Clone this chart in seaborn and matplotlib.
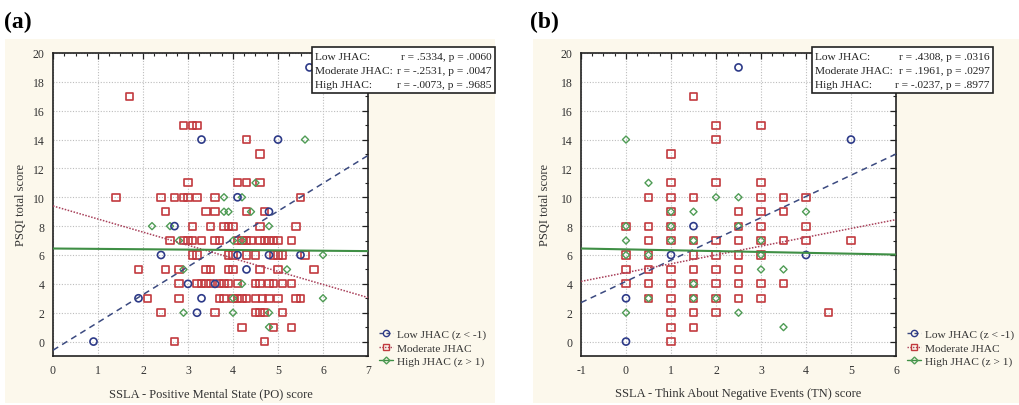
import matplotlib
matplotlib.use("Agg")
import matplotlib.pyplot as plt
import seaborn as sns
import pandas as pd
from matplotlib.lines import Line2D
from matplotlib.patches import Rectangle
from matplotlib.ticker import MultipleLocator

sns.set_theme(style="white")
plt.rcParams['font.family'] = ['Liberation Serif', 'DejaVu Serif']
plt.rcParams['axes.unicode_minus'] = False

# ---------------- Panel (a) data: SSLA Positive Mental State vs PSQI ----------------
a_low_x = [0.9, 1.9, 2.4, 2.7, 3.0, 3.2, 3.3, 3.3, 3.6, 4.1, 4.1, 4.3, 4.8, 4.8, 5.0, 5.5, 5.7]
a_low_y = [0, 3, 6, 8, 4, 2, 3, 14, 4, 6, 10, 5, 6, 9, 14, 6, 19]

a_high_x = [2.2, 2.6, 2.8, 2.9, 2.9, 3.8, 4.2, 3.8, 3.9, 4.4, 4.5, 4.8, 4.0, 4.2, 4.2, 4.0, 4.0, 4.8, 4.8, 5.2, 5.6, 6.0, 6.0]
a_high_y = [8, 8, 7, 5, 2, 10, 10, 9, 9, 9, 11, 8, 7, 7, 4, 3, 2, 2, 1, 5, 14, 6, 3]

a_mod_x = [1.7,
           2.9, 3.1, 3.2,
           4.3,
           4.6,
           3.0, 4.1, 4.3, 4.6,
           1.4, 2.4, 2.7, 2.9, 3.0, 3.2, 3.6, 5.5,
           2.5, 3.4, 3.6, 4.3, 4.7,
           3.1, 3.5, 3.8, 3.9, 4.0, 4.6, 5.4,
           2.6, 2.9, 3.0, 3.1, 3.3, 3.6, 3.7, 4.1, 4.2, 4.3, 4.4, 4.6, 4.7, 4.8, 4.9, 5.0, 5.3,
           3.1, 3.2, 3.9, 4.0, 4.3, 4.5, 4.9, 5.0, 5.1, 5.6,
           1.9, 2.5, 2.8, 3.4, 3.5, 3.9, 4.0, 4.6, 5.0, 5.8,
           2.8, 3.2, 3.3, 3.4, 3.5, 3.7, 3.8, 3.9, 4.1, 4.5, 4.6, 4.8, 4.9, 5.1, 5.3,
           2.1, 2.8, 3.7, 3.8, 4.0, 4.1, 4.2, 4.3, 4.5, 4.65, 4.8, 5.0, 5.4, 5.5,
           2.4, 3.6, 4.5, 4.6, 4.7, 5.1,
           4.2, 4.9, 5.3,
           2.7, 4.7]
a_mod_y = [17,
           15, 15, 15,
           14,
           13,
           11, 11, 11, 11,
           10, 10, 10, 10, 10, 10, 10, 10,
           9, 9, 9, 9, 9,
           8, 8, 8, 8, 8, 8, 8,
           7, 7, 7, 7, 7, 7, 7, 7, 7, 7, 7, 7, 7, 7, 7, 7, 7,
           6, 6, 6, 6, 6, 6, 6, 6, 6, 6,
           5, 5, 5, 5, 5, 5, 5, 5, 5, 5,
           4, 4, 4, 4, 4, 4, 4, 4, 4, 4, 4, 4, 4, 4, 4,
           3, 3, 3, 3, 3, 3, 3, 3, 3, 3, 3, 3, 3, 3,
           2, 2, 2, 2, 2, 2,
           1, 1, 1,
           0, 0]

# fitted lines (value at left and right end of x range)
a_fit_x = [0, 7]
a_fit_low = [-0.6, 12.9]
a_fit_mod = [9.4, 3.05]
a_fit_high = [6.45, 6.27]

# ---------------- Panel (b) data: SSLA Think About Negative Events vs PSQI ----------------
b_low_x = [0, 0, 1, 1.5, 2.5, 4, 5]
b_low_y = [0, 3, 6, 8, 19, 6, 14]

b_high_x = [0, 0, 0, 0.5, 1.5, 2, 2.5, 2.5, 3, 3.5, 3.5, 4,
            0, 0, 0.5, 0.5, 1, 1, 1, 1.5, 1.5, 1.5, 2, 2.5, 3, 3]
b_high_y = [14, 7, 2, 11, 9, 10, 10, 2, 5, 5, 1, 9,
            8, 6, 6, 3, 9, 8, 7, 7, 4, 3, 3, 8, 7, 6]

b_mod_x = [0, 0, 0, 0,
           0.5, 0.5, 0.5, 0.5, 0.5, 0.5, 0.5,
           1, 1, 1, 1, 1, 1, 1, 1, 1, 1, 1, 1,
           1.5, 1.5, 1.5, 1.5, 1.5, 1.5, 1.5, 1.5, 1.5,
           2, 2, 2, 2, 2, 2, 2, 2, 2,
           2.5, 2.5, 2.5, 2.5, 2.5, 2.5, 2.5,
           3, 3, 3, 3, 3, 3, 3, 3, 3,
           3.5, 3.5, 3.5, 3.5,
           4, 4, 4,
           4.5,
           5]
b_mod_y = [8, 6, 5, 4,
           10, 8, 7, 6, 5, 4, 3,
           13, 11, 10, 9, 8, 7, 5, 4, 3, 2, 1, 0,
           17, 10, 7, 6, 5, 4, 3, 2, 1,
           15, 14, 11, 7, 6, 5, 4, 3, 2,
           9, 8, 7, 6, 5, 4, 3,
           15, 11, 10, 9, 8, 7, 6, 4, 3,
           10, 9, 7, 4,
           10, 8, 7,
           2,
           7]

b_fit_x = [-1, 6]
b_fit_low = [2.7, 13.0]
b_fit_mod = [4.17, 8.45]
b_fit_high = [6.45, 6.03]

# ---------------- text ----------------
group_names = ["Low JHAC (z < -1)", "Moderate JHAC", "High JHAC (z > 1)"]
stat_labels = ["Low JHAC:", "Moderate JHAC:", "High JHAC:"]
a_stats = ["r = .5334, p = .0060", "r = -.2531, p = .0047", "r = -.0073, p = .9685"]
b_stats = ["r = .4308, p = .0316", "r = .1961, p = .0297", "r = -.0237, p = .8977"]
a_xlabel = "SSLA - Positive Mental State (PO) score"
b_xlabel = "SSLA - Think About Negative Events (TN) score"
ylabel = "PSQI total score"

# ---------------- styling ----------------
W, H = 1020, 406
C_LOW, C_MOD, C_HIGH = "#2d3a88", "#c23a3e", "#4f9c55"
L_LOW, L_MOD, L_HIGH = "#3b4a80", "#a8405a", "#3f8f45"
CREAM = "#fcf8ec"

fig = plt.figure(figsize=(W / 100, H / 100), dpi=100)
fig.patch.set_facecolor("white")


def fx(px):
    return px / W


def fy(py):
    return 1 - py / H


# cream panel backgrounds
for x0, x1 in [(5, 495), (533, 1020)]:
    fig.patches.append(Rectangle((fx(x0), fy(404)), fx(x1) - fx(x0), fy(40) - fy(404),
                                 transform=fig.transFigure, facecolor=CREAM,
                                 edgecolor="none", zorder=0))


def panel(left_px, xlim, lx, ly, mx, my, hx, hy, fit_x, f_low, f_mod, f_high,
          xlabel, stats, box_px, tag, tag_px, ylab_x):
    ax = fig.add_axes([fx(left_px), fy(357), 315 / W, (357 - 54) / H])
    ax.set_facecolor("white")
    ax.set_zorder(1)
    df_low = pd.DataFrame({"x": lx, "y": ly})
    df_mod = pd.DataFrame({"x": mx, "y": my})
    df_high = pd.DataFrame({"x": hx, "y": hy})

    sns.scatterplot(data=df_mod, x="x", y="y", ax=ax, marker="s", s=26,
                    color=C_MOD, facecolor="none", edgecolor=C_MOD, linewidth=1.2, zorder=3)
    sns.scatterplot(data=df_high, x="x", y="y", ax=ax, marker="D", s=13,
                    color=C_HIGH, facecolor="none", edgecolor=C_HIGH, linewidth=1.0, zorder=4)
    sns.scatterplot(data=df_low, x="x", y="y", ax=ax, marker="o", s=26,
                    color=C_LOW, facecolor="none", edgecolor=C_LOW, linewidth=1.2, zorder=5)

    sns.lineplot(x=fit_x, y=f_low, ax=ax, color=L_LOW, linewidth=1.1, zorder=6)
    ax.lines[-1].set_dashes([4, 3])
    sns.lineplot(x=fit_x, y=f_mod, ax=ax, color=L_MOD, linewidth=1.1, zorder=6)
    ax.lines[-1].set_dashes([1, 1])
    sns.lineplot(x=fit_x, y=f_high, ax=ax, color=L_HIGH, linewidth=1.5, zorder=6)

    ax.set_xlim(*xlim)
    ax.set_ylim(-1, 20)
    ax.xaxis.set_major_locator(MultipleLocator(1))
    ax.xaxis.set_minor_locator(MultipleLocator(0.25))
    ax.yaxis.set_major_locator(MultipleLocator(2))
    ax.yaxis.set_minor_locator(MultipleLocator(1))
    ax.set_yticks(range(0, 21, 2))
    ax.grid(True, which="major", color="#bdbdbd", linestyle=(0, (1, 1.5)), linewidth=0.8)
    ax.tick_params(which="both", direction="in", top=True, right=True, colors="#222222",
                   labelsize=8.5, labelcolor="#333333")
    ax.tick_params(which="major", length=4, width=0.9, pad=6)
    ax.tick_params(which="minor", length=2.5, width=0.8)
    for sp in ax.spines.values():
        sp.set_visible(True)
        sp.set_color("#222222")
        sp.set_linewidth(1.2)
    ax.set_xlabel(xlabel, fontsize=9, color="#333333", labelpad=8)
    ax.set_ylabel(ylabel, fontsize=9, color="#333333")
    ax.yaxis.set_label_coords(ylab_x, 0.5)

    handles = [
        Line2D([], [], color=L_LOW, linestyle=(0, (3, 2)), linewidth=1, marker="o",
               markerfacecolor="none", markeredgecolor=C_LOW, markersize=4.5),
        Line2D([], [], color=L_MOD, linestyle=(0, (1, 1)), linewidth=1, marker="s",
               markerfacecolor="none", markeredgecolor=C_MOD, markersize=4.5),
        Line2D([], [], color=L_HIGH, linestyle="-", linewidth=1, marker="D",
               markerfacecolor="none", markeredgecolor=C_HIGH, markersize=3.5),
    ]
    ax.legend(handles, group_names, loc="center left", bbox_to_anchor=(1.035, 0.028),
              frameon=False, fontsize=8.2, handlelength=1.25, handletextpad=0.3,
              labelspacing=0.28, borderaxespad=0, borderpad=0, labelcolor="#333333")

    # statistics box
    bx0, bx1, by0, by1 = box_px
    fig.patches.append(Rectangle((fx(bx0), fy(by1)), fx(bx1) - fx(bx0), fy(by0) - fy(by1),
                                 transform=fig.transFigure, facecolor="white",
                                 edgecolor="#222222", linewidth=1.2, zorder=10))
    for i, (lab, st) in enumerate(zip(stat_labels, stats)):
        yy = fy(57.5 + i * 14)
        fig.text(fx(bx0 + 3), yy, lab, ha="left", va="center", fontsize=8.2,
                 color="#222222", zorder=11)
        fig.text(fx(bx1 - 3), yy, st, ha="right", va="center", fontsize=8.2,
                 color="#222222", zorder=11)

    fig.text(fx(tag_px), fy(22), tag, ha="left", va="center", fontsize=17,
             fontweight="bold", color="black")
    return ax


panel(53, (0, 7), a_low_x, a_low_y, a_mod_x, a_mod_y, a_high_x, a_high_y,
      a_fit_x, a_fit_low, a_fit_mod, a_fit_high, a_xlabel, a_stats,
      (312, 495, 48, 94), "(a)", 4, -0.083)
panel(581, (-1, 6), b_low_x, b_low_y, b_mod_x, b_mod_y, b_high_x, b_high_y,
      b_fit_x, b_fit_low, b_fit_mod, b_fit_high, b_xlabel, b_stats,
      (812, 993, 48, 94), "(b)", 530, -0.095)

fig.savefig("out.png", dpi=100, facecolor="white")
